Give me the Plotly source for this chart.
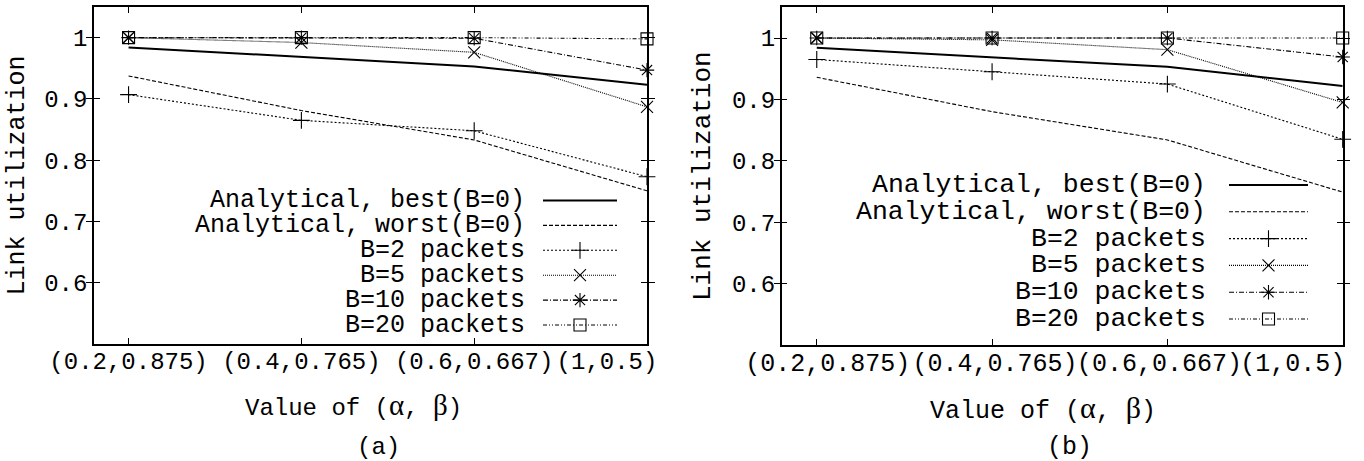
import plotly.graph_objects as go

# ---------------- data ----------------
categories = ["(0.2,0.875)", "(0.4,0.765)", "(0.6,0.667)", "(1,0.5)"]
series_names = ["Analytical, best(B=0)", "Analytical, worst(B=0)", "B=2 packets",
                "B=5 packets", "B=10 packets", "B=20 packets"]

a_best = [0.984, 0.968, 0.953, 0.923]
a_worst = [0.9375, 0.881, 0.833, 0.750]
a_b2 = [0.907, 0.865, 0.848, 0.773]
a_b5 = [1.0, 0.992, 0.976, 0.887]
a_b10 = [1.0, 1.0, 0.999, 0.947]
a_b20 = [1.0, 1.0, 1.0, 0.998]

b_best = [0.984, 0.968, 0.953, 0.922]
b_worst = [0.936, 0.880, 0.834, 0.749]
b_b2 = [0.965, 0.945, 0.925, 0.835]
b_b5 = [1.0, 0.997, 0.981, 0.895]
b_b10 = [1.0, 1.0, 1.0, 0.969]
b_b20 = [1.0, 1.0, 1.0, 1.0]

y_ticks = [0.6, 0.7, 0.8, 0.9, 1.0]
y_tick_labels = ["0.6", "0.7", "0.8", "0.9", "1"]

# ---------------- styles / layout ----------------
W, H = 1364, 461
MONO = "Liberation Mono, Courier New, monospace"
SERIF = "Liberation Serif, Times New Roman, serif"
XR = [-0.2, 3]

styles = [
    dict(dash="solid", width=2.0, symbol=None),
    dict(dash="4px,2px", width=1.1, symbol=None),
    dict(dash="2px,2px", width=1.1, symbol="cross-thin-open"),
    dict(dash="1px,1px", width=1.1, symbol="x-thin-open"),
    dict(dash="5px,2px,1px,2px", width=1.1, symbol="asterisk-open"),
    dict(dash="4px,2px,1px,2px,1px,2px", width=1.1, symbol="square-open"),
]
MSIZE = 12

panels = [
    dict(series=[a_best, a_worst, a_b2, a_b5, a_b10, a_b20],
         box=(94, 647, 7, 344), font=24,
         label_shift_px=[0, 0, 0, -40],
         ytitle=(17, 175.5), xtitle=(353, 405), label=("(a)", 378, 447),
         leg=dict(text_x=527, y0=200.5, dy=24.9, lx0=543, lx1=617, fs=25)),
    dict(series=[b_best, b_worst, b_b2, b_b5, b_b10, b_b20],
         box=(781.7, 1342.7, 7.3, 345), font=25,
         label_shift_px=[11, 3, -8, -50],
         ytitle=(703, 176), xtitle=(1042.5, 408), label=("(b)", 1069, 447),
         leg=dict(text_x=1208, y0=185, dy=26.8, lx0=1229, lx1=1308, fs=26.5)),
]

fig = go.Figure()
x_idx = list(range(len(categories)))

for pi, p in enumerate(panels):
    xa = "x" if pi == 0 else "x2"
    ya = "y" if pi == 0 else "y2"
    for s, st in zip(p["series"], styles):
        mode = "lines+markers" if st["symbol"] else "lines"
        fig.add_trace(go.Scatter(
            x=x_idx, y=s, mode=mode, xaxis=xa, yaxis=ya, showlegend=False,
            cliponaxis=False,
            line=dict(color="black", width=st["width"], dash=st["dash"]),
            marker=dict(symbol=st["symbol"] or "circle", size=MSIZE, color="black",
                        line=dict(color="black", width=1.1)),
        ))
    # empty trace so the label-only overlay axis is drawn
    fig.add_trace(go.Scatter(x=[], y=[], mode="markers", showlegend=False, hoverinfo="skip",
                             xaxis="x4" if pi == 0 else "x5", yaxis=ya))

# overlay axis in pixel coords for legends
for pi, p in enumerate(panels):
    lg = p["leg"]
    for k, (nm, st) in enumerate(zip(series_names, styles)):
        yy = lg["y0"] + k * lg["dy"]
        fig.add_trace(go.Scatter(
            x=[lg["lx0"], lg["lx1"]], y=[yy, yy], mode="lines", xaxis="x3", yaxis="y3",
            showlegend=False, line=dict(color="black", width=st["width"], dash=st["dash"])))
        if st["symbol"]:
            fig.add_trace(go.Scatter(
                x=[(lg["lx0"] + lg["lx1"]) / 2], y=[yy], mode="markers", xaxis="x3", yaxis="y3",
                showlegend=False,
                marker=dict(symbol=st["symbol"], size=MSIZE, color="black",
                            line=dict(color="black", width=1.1))))
        fig.add_annotation(x=lg["text_x"], y=yy, xref="x3", yref="y3", text=nm,
                           showarrow=False, xanchor="right", yanchor="middle",
                           font=dict(family=MONO, size=lg["fs"], color="black"))

    # axis titles and panel labels
    fig.add_annotation(x=p["ytitle"][0], y=p["ytitle"][1], xref="x3", yref="y3",
                       text="Link utilization", textangle=-90, showarrow=False,
                       xanchor="center", yanchor="middle",
                       font=dict(family=MONO, size=p["font"] + 1, color="black"))
    gsp = "<span style='font-family:" + SERIF + ";font-size:" + str(p["font"] + 5) + "px'>"
    fig.add_annotation(x=p["xtitle"][0], y=p["xtitle"][1], xref="x3", yref="y3",
                       text="Value of (" + gsp + "α</span>, " + gsp + "β</span>)",
                       showarrow=False, xanchor="center", yanchor="middle",
                       font=dict(family=MONO, size=p["font"], color="black"))
    fig.add_annotation(x=p["label"][1], y=p["label"][2], xref="x3", yref="y3",
                       text=p["label"][0], showarrow=False, xanchor="center", yanchor="middle",
                       font=dict(family=MONO, size=p["font"], color="black"))


def axis_common(fs):
    return dict(showline=True, linecolor="black", linewidth=1.5, mirror="allticks",
                ticks="inside", ticklen=6, tickwidth=1.2, tickcolor="black",
                showgrid=False, zeroline=False, automargin=False, tickangle=0,
                tickfont=dict(family=MONO, size=fs, color="black"))

layout = dict(width=W, height=H, margin=dict(l=0, r=0, t=0, b=0, autoexpand=False),
              paper_bgcolor="white", plot_bgcolor="rgba(0,0,0,0)", showlegend=False)

for pi, p in enumerate(panels):
    x0, x1, y0, y1 = p["box"]
    xk = "xaxis" if pi == 0 else "xaxis2"
    yk = "yaxis" if pi == 0 else "yaxis2"
    ya = "y" if pi == 0 else "y2"
    xa = "x" if pi == 0 else "x2"
    dom = [x0 / W, x1 / W]
    layout[xk] = dict(domain=dom, range=XR, anchor=ya,
                      tickvals=x_idx, showticklabels=False, **axis_common(p["font"]))
    layout[yk] = dict(domain=[1 - y1 / H, 1 - y0 / H], range=[0.5, 1.05], anchor=xa,
                      tickvals=y_ticks, ticktext=y_tick_labels, **axis_common(24))
    # label-only overlay axis (gnuplot-style label placement)
    px_per_unit = (x1 - x0) / (XR[1] - XR[0])
    lab_pos = [i + sh / px_per_unit for i, sh in zip(x_idx, p["label_shift_px"])]
    lk = "xaxis4" if pi == 0 else "xaxis5"
    layout[lk] = dict(domain=dom, range=XR, anchor=ya, overlaying=xa, side="bottom",
                      tickvals=lab_pos, ticktext=categories, ticks="", showline=False,
                      showgrid=False, zeroline=False, automargin=False, tickangle=0,
                      ticklabeloverflow="allow", fixedrange=True,
                      tickfont=dict(family=MONO, size=p["font"], color="black"))

layout["xaxis3"] = dict(domain=[0, 1], range=[0, W], anchor="y3", visible=False, fixedrange=True)
layout["yaxis3"] = dict(domain=[0, 1], range=[H, 0], anchor="x3", visible=False, fixedrange=True)

fig.update_layout(**layout)
fig.write_html("out.html")
